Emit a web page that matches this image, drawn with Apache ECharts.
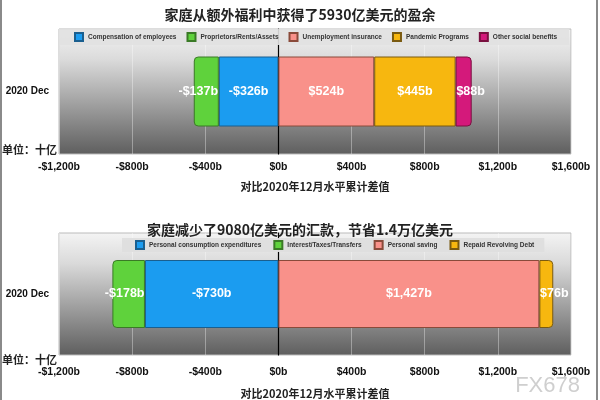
<!DOCTYPE html>
<html><head><meta charset="utf-8">
<script src="https://cdn.jsdelivr.net/npm/echarts@6/dist/echarts.min.js"></script>
<style>html,body{margin:0;padding:0;background:#fff}#c{width:600px;height:400px}</style>
</head><body><div id="c"></div>
<script>
// ---- data ----
const category = ['2020 Dec'];
const title1 = '家庭从额外福利中获得了5930亿美元的盈余';
const title2 = '家庭减少了9080亿美元的汇款，节省1.4万亿美元';
const axisName = '对比2020年12月水平累计差值';
const unitText = '单位：十亿';

const top_names = ['Compensation of employees','Proprietors/Rents/Assets','Unemployment insurance','Pandemic Programs','Other social benefits'];
const top_values = [-326, -137, 524, 445, 88];

const bot_names = ['Personal consumption expenditures','Interest/Taxes/Transfers','Personal saving','Repaid Revolving Debt'];
const bot_values = [-730, -178, 1427, 76];

const axisMin = -1200, axisMax = 1600, axisStep = 400;

// ---- styles ----
const colors = {blue:'#1b9cf0', green:'#5fd23c', salmon:'#f9918a', orange:'#f7b70f', magenta:'#d4197b'};
const borders = {blue:'#1a5f8f', green:'#3a7a26', salmon:'#8a4a3a', orange:'#7a5a10', magenta:'#7a1040'};
const topColorKeys = ['blue','green','salmon','orange','magenta'];
const botColorKeys = ['blue','green','salmon','orange'];
const SANS = "'Liberation Sans',Arial,sans-serif";
const CJK = "'Noto Sans CJK SC',sans-serif";

function money(v){
  const a = Math.abs(v).toLocaleString('en-US');
  return (v < 0 ? '-$' : '$') + a + 'b';
}

const gridBg = {type:'linear', x:0, y:0, x2:0, y2:1, colorStops:[
  {offset:0, color:'#f4f4f4'}, {offset:0.25, color:'#dadada'}, {offset:1, color:'#5e5e5e'}]};

function makeSeries(names, values, keys, idx, stack, radii, offsets){
  return names.map((n,i)=>({
    name:n, type:'bar', stack:stack, xAxisIndex:idx, yAxisIndex:idx,
    barWidth: idx===0 ? 70 : 68,
    data:[values[i]],
    itemStyle:{color:colors[keys[i]], borderColor:borders[keys[i]], borderWidth:1, borderRadius: radii[i]},
    label:{show:true, position:'inside', offset:[offsets[i],0], color:'#fff', fontFamily:SANS, fontWeight:'bold', fontSize:12.5,
      formatter:p=>money(p.value)}
  }));
}

const topRadii = [0,[4,0,0,4],0,0,[0,4,4,0]];
const botRadii = [0,[4,0,0,4],0,[0,4,4,0]];
const topOffsets = [0,-8,0,0,7];
const botOffsets = [0,-4,0,8];

function xAxis(idx, nameGap, margin){
  return {type:'value', gridIndex:idx, min:axisMin, max:axisMax, interval:axisStep,
    name:axisName, nameLocation:'middle', nameGap:nameGap,
    nameTextStyle:{fontFamily:CJK, fontWeight:'bold', fontSize:11, color:'#222'},
    axisLine:{show:false}, axisTick:{show:false},
    axisLabel:{formatter:money, fontFamily:SANS, fontWeight:'bold', fontSize:10.5, color:'#111', margin:margin},
    splitLine:{show:true, lineStyle:{color:'rgba(255,255,255,0.35)', width:1}}};
}
function yAxis(idx){
  return {type:'category', gridIndex:idx, data:category,
    axisLine:{show:true, onZero:true, lineStyle:{color:'#000', width:1.2}}, axisTick:{show:false},
    axisLabel:{fontFamily:SANS, fontWeight:'bold', fontSize:10, color:'#111', margin:10}};
}

const legendText = {fontFamily:SANS, fontWeight:'bold', fontSize:6.5, color:'#333'};

const chart = echarts.init(document.getElementById('c'), null, {renderer:'canvas'});
chart.setOption({
  animation:false,
  title:[
    {text:title1, left:'center', top:3, textStyle:{fontFamily:CJK, fontWeight:'bold', fontSize:14, color:'#222'}},
    {text:title2, left:'center', top:218, textStyle:{fontFamily:CJK, fontWeight:'bold', fontSize:14, color:'#222'}}
  ],
  legend:[
    {data:top_names, left:59, top:29, width:540, itemWidth:8, itemHeight:8, itemGap:10, icon:'rect',
     padding:[3,12,3,15], backgroundColor:'rgba(225,225,225,0.9)', textStyle:legendText},
    {data:bot_names, left:122, top:238, width:540, itemWidth:8, itemHeight:8, itemGap:12, icon:'rect',
     padding:[2,10,2,13], backgroundColor:'rgba(222,222,222,0.95)', textStyle:legendText}
  ],
  grid:[
    {left:59, right:29, top:29, height:125, show:true, backgroundColor:gridBg, borderColor:'#bbb', borderWidth:1},
    {left:59, right:29, top:233, height:125, show:true, backgroundColor:gridBg, borderColor:'#bbb', borderWidth:1}
  ],
  xAxis:[xAxis(0, 27, 8), xAxis(1, 33, 12)],
  yAxis:[yAxis(0), yAxis(1)],
  series:[].concat(makeSeries(top_names, top_values, topColorKeys, 0, 'a', topRadii, topOffsets),
                   makeSeries(bot_names, bot_values, botColorKeys, 1, 'b', botRadii, botOffsets)),
  graphic:[
    {type:'text', left:2, top:144, style:{text:unitText, font:"bold 11px 'Noto Sans CJK SC'", fill:'#222'}},
    {type:'text', left:2, top:354, style:{text:unitText, font:"bold 11px 'Noto Sans CJK SC'", fill:'#222'}},
    {type:'text', right:20, top:375, style:{text:'FX678', font:"22px 'Liberation Sans',sans-serif", fill:'#cfcfcf'}},
    {type:'rect', left:0, top:0, shape:{width:2, height:400}, style:{fill:'#8a8a8a'}},
    {type:'rect', right:2, top:0, shape:{width:2, height:400}, style:{fill:'#8a8a8a'}}
  ]
});
</script></body></html>
